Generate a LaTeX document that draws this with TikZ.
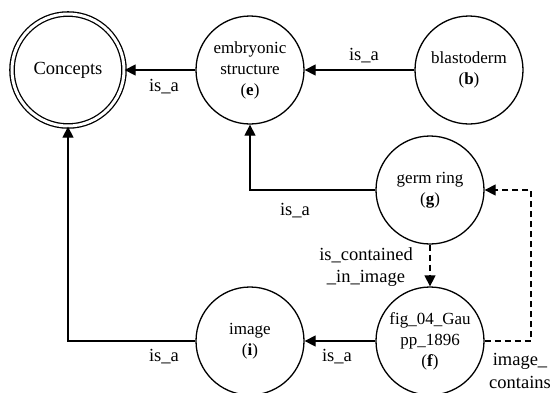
\documentclass[tikz,border=0pt]{standalone}
\usepackage{fontspec}
\setmainfont{Liberation Serif}
\usetikzlibrary{arrows.meta}
\tikzset{
  conc/.style={circle, draw, line width=1.3pt, minimum size=108pt, inner sep=0pt, align=center, font=\fontsize{17}{21}\selectfont},
  rel/.style={line width=1.3pt, -{Triangle[length=11pt,width=11pt]}},
  drel/.style={rel, dash pattern=on 6pt off 4pt},
  lab/.style={font=\fontsize{18.5}{22.5}\selectfont, align=center, inner sep=0pt}
}
\begin{document}
\begin{tikzpicture}[x=1pt,y=-1pt]
\useasboundingbox (0,0) rectangle (556,392);
\node[circle, draw, line width=1.3pt, double, double distance=3pt, minimum size=112pt, font=\fontsize{18.5}{20}\selectfont] (C) at (68,70) {Concepts};
\node[conc] (e) at (250,70) {embryonic\\structure\\(\textbf{e})};
\node[conc] (b) at (469,70) {blastoderm\\(\textbf{b})};
\node[conc] (g) at (430,190) {germ ring\\(\textbf{g})};
\node[conc] (f) at (430,341) {fig\_04\_Gau\\pp\_1896\\(\textbf{f})};
\node[conc] (i) at (250,341) {image\\(\textbf{i})};
\coordinate (k) at (531,341);
\draw[rel] (e) -- (C);
\draw[rel] (b) -- (e);
\draw[rel] (g.west) -| (e.south);
\draw[rel] (f) -- (i);
\draw[rel] (i.west) -| (C.south);
\draw[drel] (g) -- (f);
\draw[drel] (f.east) -- (k) |- (g.east);
\node[lab] (l1) at (164,87) {is\_a};
\node[lab] (l2) at (364,56) {is\_a};
\node[lab] (l3) at (295,211) {is\_a};
\node[lab] (l4) at (366,267) {is\_contained\\\_in\_image};
\node[lab] (l5) at (337,357) {is\_a};
\node[lab] (l6) at (164,357) {is\_a};
\node[lab] (l7) at (520,371) {image\_\\contains};
\end{tikzpicture}
\end{document}
